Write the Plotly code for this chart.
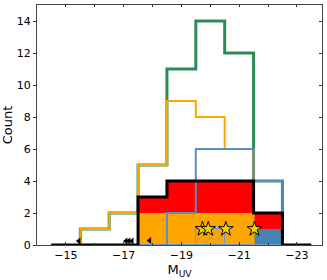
import plotly.graph_objects as go

# ---- data ----
bin_centers = [-15, -16, -17, -18, -19, -20, -21, -22, -23]
bin_width = 1.0
total_counts = [0, 1, 2, 5, 11, 14, 12, 4, 0]      # green step
faint_counts = [0, 1, 2, 5, 9, 8, 6, 0, 0]         # orange step
bright_counts = [0, 0, 0, 0, 2, 6, 6, 4, 0]        # blue step
fill_blue = [0, 0, 0, 0, 0, 0, 0, 1, 0]
fill_orange = [0, 0, 0, 2, 2, 2, 2, 0, 0]
fill_red = [0, 0, 0, 1, 2, 2, 2, 1, 0]
hatch_counts = [0, 0, 0, 0, 0, 1, 0, 0, 0]
star_muv = [-19.73, -19.93, -20.54, -21.53]
star_count = [1, 1, 1, 1]
limit_muv = [-15.45, -17.08, -17.18, -17.29, -17.9]
limit_count = [0.25, 0.25, 0.25, 0.25, 0.28]
x_ticks = [-15, -17, -19, -21, -23]
y_ticks = [0, 2, 4, 6, 8, 10, 12, 14]


def step_xy(centers, counts, trim=True):
    idx = list(range(len(counts)))
    if trim:
        nz = [i for i, c in enumerate(counts) if c > 0]
        idx = list(range(nz[0], nz[-1] + 1))
    xs, ys = [], []
    first = idx[0]
    xs.append(centers[first] + bin_width / 2)
    ys.append(0)
    for i in idx:
        xs += [centers[i] + bin_width / 2, centers[i] - bin_width / 2]
        ys += [counts[i], counts[i]]
    xs.append(centers[idx[-1]] - bin_width / 2)
    ys.append(0)
    return xs, ys


fig = go.Figure()

# filled stacked bars
base_orange = fill_blue
base_red = [a + b for a, b in zip(fill_blue, fill_orange)]
fig.add_trace(go.Bar(x=bin_centers, y=fill_blue, base=[0] * 9, width=bin_width,
                     marker=dict(color="#4682B4", line=dict(width=0))))
fig.add_trace(go.Bar(x=bin_centers, y=fill_orange, base=base_orange, width=bin_width,
                     marker=dict(color="#FFA500", line=dict(width=0))))
fig.add_trace(go.Bar(x=bin_centers, y=fill_red, base=base_red, width=bin_width,
                     marker=dict(color="#FF0000", line=dict(width=0))))
fig.add_trace(go.Bar(x=bin_centers, y=hatch_counts, base=[0] * 9, width=bin_width,
                     marker=dict(color="rgba(0,0,0,0)",
                                 line=dict(width=1, color="#6a9bc9"),
                                 pattern=dict(shape="/", fgcolor="#6a9bc9",
                                              bgcolor="rgba(0,0,0,0)", size=7, solidity=0.15))))

# step histograms
for counts, color, w in [(total_counts, "#2E8B57", 3),
                         (faint_counts, "#FFA500", 2),
                         (bright_counts, "#5B8DBE", 2)]:
    xs, ys = step_xy(bin_centers, counts)
    fig.add_trace(go.Scatter(x=xs, y=ys, mode="lines",
                             line=dict(color=color, width=w)))

# black outline of the filled histogram
black_counts = [a + b + c for a, b, c in zip(fill_blue, fill_orange, fill_red)]
xs, ys = step_xy(bin_centers, black_counts, trim=False)
fig.add_trace(go.Scatter(x=xs, y=ys, mode="lines", line=dict(color="black", width=3)))

# stars and limits
fig.add_trace(go.Scatter(x=star_muv, y=star_count, mode="markers",
                         marker=dict(symbol="star", size=11, color="#F5D000",
                                     line=dict(color="black", width=1))))
fig.add_trace(go.Scatter(x=limit_muv, y=limit_count, mode="markers",
                         marker=dict(symbol="triangle-left", size=6, color="black",
                                     line=dict(width=0))))

# invisible trace for mirror axes
fig.add_trace(go.Scatter(x=[-15], y=[0], xaxis="x2", yaxis="y2", mode="markers",
                         marker=dict(opacity=0), hoverinfo="skip"))

xr = [-14, -23.87]
yr = [0, 15]
font = dict(family="DejaVu Sans", size=11, color="black")
fig.update_layout(
    width=327, height=280,
    margin=dict(l=37, r=5, t=5, b=35),
    paper_bgcolor="white", plot_bgcolor="white",
    showlegend=False, barmode="overlay", bargap=0,
    font=font,
    xaxis=dict(range=xr, autorange=False, tickmode="array", tickvals=x_ticks,
               ticktext=["\u221215", "\u221217", "\u221219", "\u221221", "\u221223"],
               ticks="inside", ticklen=3, tickcolor="#333",
               minor=dict(dtick=1, tick0=-15, ticks="inside", ticklen=2, tickcolor="#333"),
               showline=True, linecolor="#444", linewidth=1, mirror=True,
               showgrid=False, zeroline=False, automargin=False,
               title=dict(text="M<sub>UV</sub>", font=dict(size=13), standoff=2)),
    yaxis=dict(range=yr, autorange=False, tickvals=y_ticks,
               ticks="outside", ticklen=3, tickcolor="#333",
               showline=True, linecolor="#444", linewidth=1, mirror=True,
               showgrid=False, zeroline=False, automargin=False,
               title=dict(text="Count", font=dict(size=13), standoff=4)),
    xaxis2=dict(range=xr, autorange=False, overlaying="x", side="top",
                dtick=1, tick0=-15, ticks="inside", ticklen=2, tickcolor="#333",
                showticklabels=False, showgrid=False, zeroline=False, showline=False,
                automargin=False),
    yaxis2=dict(range=yr, autorange=False, overlaying="y", side="right",
                tickvals=y_ticks, ticks="inside", ticklen=3, tickcolor="#333",
                showticklabels=False, showgrid=False, zeroline=False, showline=False,
                automargin=False),
)

fig.write_html("out.html", config={"displayModeBar": False},
               post_script="document.body.style.margin='0';")
